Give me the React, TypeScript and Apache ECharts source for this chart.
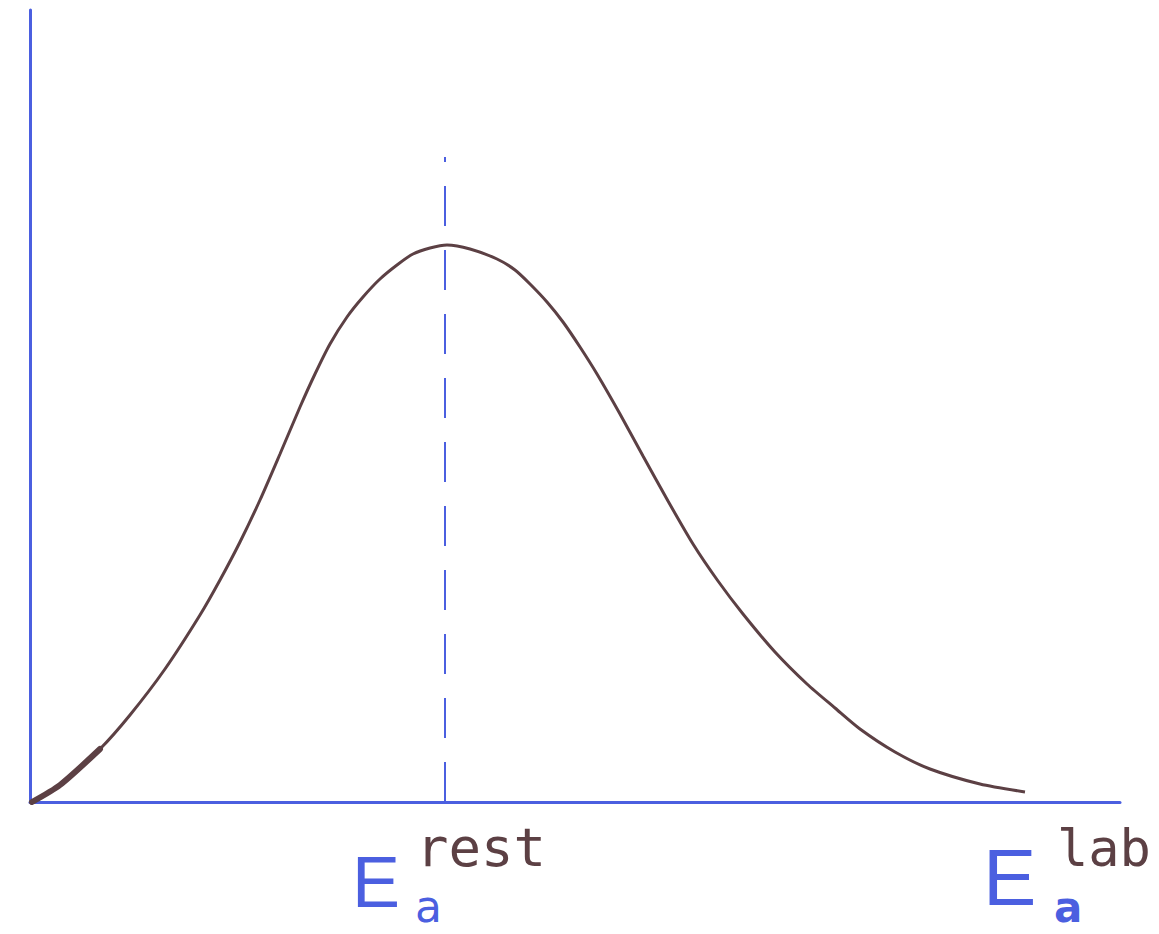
import React, { useEffect, useRef } from "react";
import * as echarts from "echarts";

// Energy distribution sketch: counts against energy, peaking at the rest energy
const energyX = [2, 30, 70, 100, 135, 170, 190, 210, 230, 250, 270, 285, 300, 317, 333, 350, 367, 383, 400, 417, 440, 467, 485, 500, 517, 533, 550, 567, 590, 613, 638, 663, 688, 713, 745, 777, 805, 830, 865, 900, 950, 995];
const countY = [0, 17, 53, 87, 133, 187, 222, 260, 302, 348, 395, 428, 458, 485, 505, 523, 537, 548, 554, 557, 553, 543, 532, 518, 500, 480, 455, 428, 388, 346, 301, 258, 221, 188, 150, 118, 94, 73, 50, 33, 18, 10];
const restEnergy = 415;
const restLineTop = 645;

const BLUE = "#4b5fe0";
const BROWN = "#5c4044";

export default function App() {
  const ref = useRef<HTMLDivElement>(null);
  useEffect(() => {
    if (!ref.current) return;
    const chart = echarts.init(ref.current, null, { renderer: "svg" });
    const curve = energyX.map((x, i) => [x, countY[i]]);
    chart.setOption({
      animation: false,
      backgroundColor: "#ffffff",
      grid: { left: 30, right: 39, top: 10, bottom: 132 },
      xAxis: {
        type: "value",
        min: 0,
        max: 1090,
        axisLine: { show: true, lineStyle: { color: BLUE, width: 3 } },
        axisTick: { show: false },
        axisLabel: { show: false },
        splitLine: { show: false },
      },
      yAxis: {
        type: "value",
        min: 0,
        max: 792,
        axisLine: { show: true, lineStyle: { color: BLUE, width: 3 } },
        axisTick: { show: false },
        axisLabel: { show: false },
        splitLine: { show: false },
      },
      series: [
        {
          type: "line",
          data: curve,
          smooth: 0.25,
          showSymbol: false,
          lineStyle: { color: BROWN, width: 3 },
          markLine: {
            silent: true,
            symbol: "none",
            label: { show: false },
            lineStyle: { color: BLUE, width: 2, type: [40, 24] },
            data: [[{ coord: [restEnergy, 0] }, { coord: [restEnergy, restLineTop] }]],
          },
        },
        {
          type: "line",
          data: curve.slice(0, 3),
          smooth: 0.25,
          showSymbol: false,
          lineStyle: { color: BROWN, width: 6, cap: "round" },
        },
      ],
      graphic: [
        { type: "text", left: 352, top: 846, style: { text: "E", fill: BLUE, font: "300 72px 'Liberation Sans'" } },
        { type: "text", left: 415, top: 884, style: { text: "a", fill: BLUE, font: "44px 'DejaVu Sans'" } },
        { type: "text", left: 416, top: 820, style: { text: "rest", fill: BROWN, font: "54px 'DejaVu Sans Mono'" } },
        { type: "text", left: 983, top: 837, style: { text: "E", fill: BLUE, font: "300 80px 'Liberation Sans'" } },
        { type: "text", left: 1054, top: 886, style: { text: "a", fill: BLUE, font: "bold 42px 'DejaVu Sans'" } },
        { type: "text", left: 1057, top: 822, style: { text: "lab", fill: BROWN, font: "52px 'DejaVu Sans Mono'" } },
      ],
    });
    return () => chart.dispose();
  }, []);
  return (
    <div
      ref={ref}
      style={{ position: "fixed", left: 0, top: 0, width: 1159, height: 934 }}
    />
  );
}
